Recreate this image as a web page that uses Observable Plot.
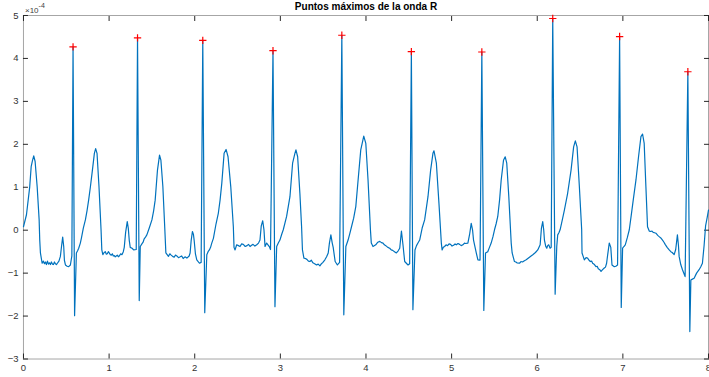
<!DOCTYPE html>
<html>
<head>
<meta charset="utf-8">
<script src="https://cdn.jsdelivr.net/npm/d3@7"></script>
<script src="https://cdn.jsdelivr.net/npm/@observablehq/plot@0.6"></script>
<style>
  html, body { margin: 0; padding: 0; background: #fff; }
  #wrap { position: relative; width: 709px; height: 377px; overflow: hidden; background: #fff; }
  #title { position: absolute; left: 23px; width: 686px; top: 1px; text-align: center;
           font: bold 10px Arial, "Liberation Sans", sans-serif; color: #000; }
  #exp { position: absolute; left: 25px; top: 3px; font: 8px Arial, "Liberation Sans", sans-serif; color: #404040; }
  #exp sup { font-size: 7px; position: relative; top: -1px; }
  #chart { position: absolute; left: 0; top: 14px; }
</style>
</head>
<body>
<div id="wrap">
  <div id="title"></div>
  <div id="exp">×10<sup>-4</sup></div>
  <div id="chart"></div>
</div>
<script>
const titleText = "Puntos máximos de la onda R";
const xTicks = [0, 1, 2, 3, 4, 5, 6, 7, 8];
const yTicks = [-3, -2, -1, 0, 1, 2, 3, 4, 5];

// R-wave peaks (time, amplitude ×1e-4)
const peakTime  = [0.579, 1.332, 2.094, 2.914, 3.718, 4.530, 5.353, 6.181, 6.962, 7.759];
const peakValue = [4.27, 4.48, 4.42, 4.18, 4.54, 4.16, 4.15, 4.93, 4.51, 3.69];

// ECG trace samples: [time, amplitude ×1e-4]
const ecgSamples = [
  [0.000,0.08],[0.035,0.36],[0.073,1.01],[0.090,1.48],[0.105,1.62],[0.120,1.73],[0.136,1.60],[0.160,1.01],[0.183,0.24],[0.190,-0.23],[0.198,-0.53],[0.218,-0.77],[0.233,-0.72],[0.245,-0.78],[0.256,-0.74],[0.268,-0.80],[0.280,-0.72],[0.292,-0.79],[0.303,-0.76],[0.315,-0.80],[0.326,-0.74],[0.338,-0.79],[0.350,-0.80],[0.362,-0.74],[0.373,-0.78],[0.385,-0.80],[0.396,-0.77],[0.414,-0.72],[0.431,-0.61],[0.446,-0.35],[0.458,-0.16],[0.470,-0.38],[0.478,-0.70],[0.490,-0.81],[0.510,-0.84],[0.528,-0.85],[0.548,-0.81],[0.565,-0.60],
  [0.579,4.27],[0.597,-1.99],[0.618,-0.53],[0.632,-0.48],[0.645,-0.42],[0.664,-0.30],[0.676,-0.19],[0.699,0.05],[0.723,0.24],[0.742,0.45],[0.761,0.70],[0.781,1.00],[0.801,1.33],[0.828,1.79],[0.843,1.90],[0.859,1.79],[0.882,1.01],[0.906,0.01],[0.915,-0.46],[0.927,-0.57],[0.942,-0.52],[0.956,-0.50],[0.968,-0.56],[0.979,-0.55],[0.991,-0.50],[1.002,-0.53],[1.014,-0.57],[1.026,-0.58],[1.038,-0.55],[1.049,-0.60],[1.061,-0.59],[1.072,-0.62],[1.084,-0.60],[1.096,-0.58],[1.108,-0.62],[1.119,-0.60],[1.135,-0.55],[1.150,-0.57],[1.166,-0.50],[1.177,-0.40],[1.193,-0.05],[1.212,0.20],[1.224,0.05],[1.235,-0.23],[1.247,-0.40],[1.268,-0.42],[1.287,-0.46],[1.317,-0.45],
  [1.332,4.48],[1.352,-1.64],[1.364,-0.38],[1.383,-0.32],[1.397,-0.28],[1.410,-0.20],[1.425,-0.16],[1.441,-0.11],[1.469,0.05],[1.500,0.24],[1.520,0.45],[1.538,0.70],[1.565,1.40],[1.589,1.75],[1.605,1.63],[1.628,1.01],[1.651,0.01],[1.663,-0.53],[1.678,-0.57],[1.693,-0.61],[1.709,-0.55],[1.725,-0.58],[1.742,-0.61],[1.760,-0.63],[1.775,-0.58],[1.791,-0.60],[1.810,-0.64],[1.830,-0.62],[1.848,-0.60],[1.865,-0.66],[1.886,-0.62],[1.908,-0.65],[1.935,-0.60],[1.946,-0.53],[1.958,-0.25],[1.973,-0.03],[1.985,-0.10],[1.993,-0.23],[2.008,-0.55],[2.024,-0.69],[2.055,-0.77],[2.075,-0.75],
  [2.094,4.42],[2.117,-1.92],[2.141,-0.57],[2.156,-0.50],[2.171,-0.46],[2.185,-0.40],[2.199,-0.30],[2.218,-0.19],[2.249,0.15],[2.276,0.40],[2.296,0.70],[2.316,1.09],[2.343,1.79],[2.366,1.88],[2.389,1.71],[2.421,1.01],[2.451,0.08],[2.459,-0.40],[2.471,-0.46],[2.490,-0.34],[2.510,-0.36],[2.529,-0.38],[2.548,-0.32],[2.567,-0.33],[2.590,-0.38],[2.611,-0.36],[2.628,-0.33],[2.646,-0.38],[2.664,-0.35],[2.681,-0.33],[2.703,-0.37],[2.724,-0.34],[2.745,-0.30],[2.762,-0.23],[2.777,0.10],[2.794,0.22],[2.809,0.00],[2.821,-0.38],[2.840,-0.30],[2.871,-0.38],[2.885,-0.45],
  [2.914,4.18],[2.937,-1.78],[2.957,-0.38],[2.976,-0.30],[2.995,-0.23],[3.015,-0.10],[3.034,0.01],[3.073,0.32],[3.112,0.78],[3.143,1.56],[3.170,1.79],[3.182,1.87],[3.202,1.71],[3.228,0.86],[3.248,0.08],[3.258,-0.46],[3.275,-0.65],[3.292,-0.66],[3.310,-0.68],[3.328,-0.72],[3.345,-0.73],[3.362,-0.70],[3.380,-0.76],[3.400,-0.78],[3.423,-0.81],[3.442,-0.79],[3.462,-0.83],[3.480,-0.78],[3.497,-0.75],[3.520,-0.69],[3.540,-0.62],[3.559,-0.53],[3.573,-0.30],[3.590,-0.11],[3.606,-0.30],[3.617,-0.40],[3.640,-0.73],[3.666,-0.81],[3.692,-0.75],
  [3.718,4.54],[3.741,-1.97],[3.765,-0.38],[3.791,-0.23],[3.811,-0.08],[3.831,0.08],[3.856,0.28],[3.881,0.55],[3.908,1.17],[3.939,1.87],[3.974,2.19],[3.998,2.02],[4.024,1.17],[4.052,0.01],[4.062,-0.30],[4.082,-0.38],[4.114,-0.34],[4.138,-0.28],[4.161,-0.26],[4.180,-0.29],[4.199,-0.30],[4.215,-0.34],[4.231,-0.36],[4.255,-0.40],[4.277,-0.42],[4.295,-0.46],[4.312,-0.47],[4.333,-0.50],[4.355,-0.53],[4.376,-0.48],[4.394,-0.42],[4.414,-0.02],[4.432,-0.34],[4.452,-0.73],[4.491,-0.81],[4.510,-0.78],
  [4.530,4.16],[4.548,-1.85],[4.572,-0.46],[4.590,-0.36],[4.607,-0.30],[4.627,-0.23],[4.656,0.05],[4.685,0.24],[4.724,0.78],[4.755,1.40],[4.782,1.79],[4.794,1.85],[4.822,1.56],[4.852,0.63],[4.880,-0.30],[4.889,-0.46],[4.903,-0.40],[4.918,-0.38],[4.935,-0.34],[4.953,-0.36],[4.970,-0.32],[4.988,-0.33],[5.005,-0.37],[5.023,-0.35],[5.040,-0.32],[5.055,-0.34],[5.075,-0.31],[5.093,-0.33],[5.112,-0.36],[5.132,-0.34],[5.150,-0.30],[5.163,-0.31],[5.190,-0.30],[5.210,-0.10],[5.229,0.16],[5.245,0.00],[5.256,-0.23],[5.288,-0.53],[5.307,-0.69],[5.332,-0.70],
  [5.353,4.15],[5.376,-1.87],[5.396,-0.53],[5.422,-0.50],[5.442,-0.40],[5.462,-0.30],[5.483,-0.15],[5.501,0.01],[5.520,0.15],[5.539,0.32],[5.560,0.70],[5.579,1.17],[5.606,1.63],[5.626,1.71],[5.644,1.56],[5.668,0.78],[5.696,-0.30],[5.707,-0.53],[5.734,-0.73],[5.750,-0.74],[5.763,-0.76],[5.793,-0.77],[5.810,-0.73],[5.828,-0.74],[5.850,-0.71],[5.871,-0.69],[5.890,-0.66],[5.909,-0.63],[5.928,-0.60],[5.948,-0.57],[5.979,-0.52],[6.006,-0.46],[6.034,-0.34],[6.049,0.05],[6.064,0.20],[6.076,0.00],[6.084,-0.23],[6.100,-0.38],[6.111,-0.42],[6.122,-0.36],[6.134,-0.34],[6.150,-0.42],[6.163,-0.40],
  [6.181,4.93],[6.209,-1.49],[6.228,-0.38],[6.239,-0.11],[6.253,-0.06],[6.267,0.01],[6.294,0.25],[6.317,0.47],[6.355,0.86],[6.395,1.40],[6.425,1.94],[6.445,2.08],[6.465,1.94],[6.492,1.01],[6.519,0.01],[6.523,-0.53],[6.550,-0.69],[6.570,-0.64],[6.588,-0.65],[6.605,-0.70],[6.620,-0.73],[6.635,-0.72],[6.647,-0.77],[6.668,-0.80],[6.686,-0.85],[6.700,-0.84],[6.713,-0.90],[6.730,-0.92],[6.745,-0.96],[6.763,-0.92],[6.783,-0.88],[6.797,-0.86],[6.810,-0.77],[6.824,-0.55],[6.841,-0.30],[6.859,-0.40],[6.873,-0.81],[6.900,-0.85],[6.918,-0.84],[6.938,-0.81],
  [6.962,4.51],[6.981,-1.80],[6.997,-0.42],[7.012,-0.38],[7.028,-0.34],[7.051,-0.18],[7.075,0.01],[7.098,0.35],[7.121,0.70],[7.153,1.17],[7.183,1.71],[7.211,2.18],[7.230,2.24],[7.249,2.02],[7.269,1.01],[7.288,0.08],[7.308,-0.02],[7.327,-0.03],[7.340,-0.02],[7.354,-0.05],[7.370,-0.06],[7.386,-0.07],[7.407,-0.12],[7.424,-0.15],[7.443,-0.18],[7.463,-0.23],[7.480,-0.28],[7.494,-0.33],[7.517,-0.40],[7.541,-0.46],[7.560,-0.50],[7.576,-0.52],[7.599,-0.57],[7.617,-0.45],[7.637,-0.11],[7.649,-0.35],[7.657,-0.61],[7.676,-0.80],[7.696,-0.92],[7.727,-1.08],
  [7.759,3.69],[7.782,-2.36],[7.794,-1.16],[7.812,-1.14],[7.832,-1.12],[7.861,-1.00],[7.890,-0.92],[7.910,-0.85],[7.929,-0.77],[7.949,-0.35],[7.966,0.10],[7.985,0.30],[8.000,0.47]
];

const ecg = ecgSamples.map(([t, v]) => ({t, v}));
const peaks = peakTime.map((t, i) => ({t, v: peakValue[i]}));

document.getElementById("title").textContent = titleText;

const chart = Plot.plot({
  width: 710,
  height: 363,
  marginLeft: 23,
  marginRight: 1,
  marginTop: 1,
  marginBottom: 18,
  x: {domain: [0, 8]},
  y: {domain: [-3, 5]},
  style: {fontFamily: "Arial, 'Liberation Sans', sans-serif", fontSize: "9.5px", color: "#262626", background: "white", overflow: "visible"},
  marks: [
    Plot.frame({stroke: "#a6a6a6"}),
    Plot.axisX(xTicks, {anchor: "bottom", tickSize: 0, tickPadding: 5, label: null, fill: "#333"}),
    Plot.axisX(xTicks, {anchor: "bottom", tickSize: -5, tickFormat: () => "", label: null, stroke: "#262626"}),
    Plot.axisX(xTicks, {anchor: "top", tickSize: -5, tickFormat: () => "", label: null, stroke: "#262626"}),
    Plot.axisY(yTicks, {anchor: "left", tickSize: 0, tickPadding: 5, label: null, fill: "#333"}),
    Plot.axisY(yTicks, {anchor: "left", tickSize: -5, tickFormat: () => "", label: null, stroke: "#262626"}),
    Plot.axisY(yTicks, {anchor: "right", tickSize: -5, tickFormat: () => "", label: null, stroke: "#262626"}),
    Plot.line(ecg, {x: "t", y: "v", stroke: "#0072BD", strokeWidth: 1.2}),
    Plot.dot(peaks, {x: "t", y: "v", symbol: "plus", stroke: "#ff0000", r: 2.5, strokeWidth: 1.2})
  ]
});
document.getElementById("chart").appendChild(chart);
</script>
</body>
</html>
